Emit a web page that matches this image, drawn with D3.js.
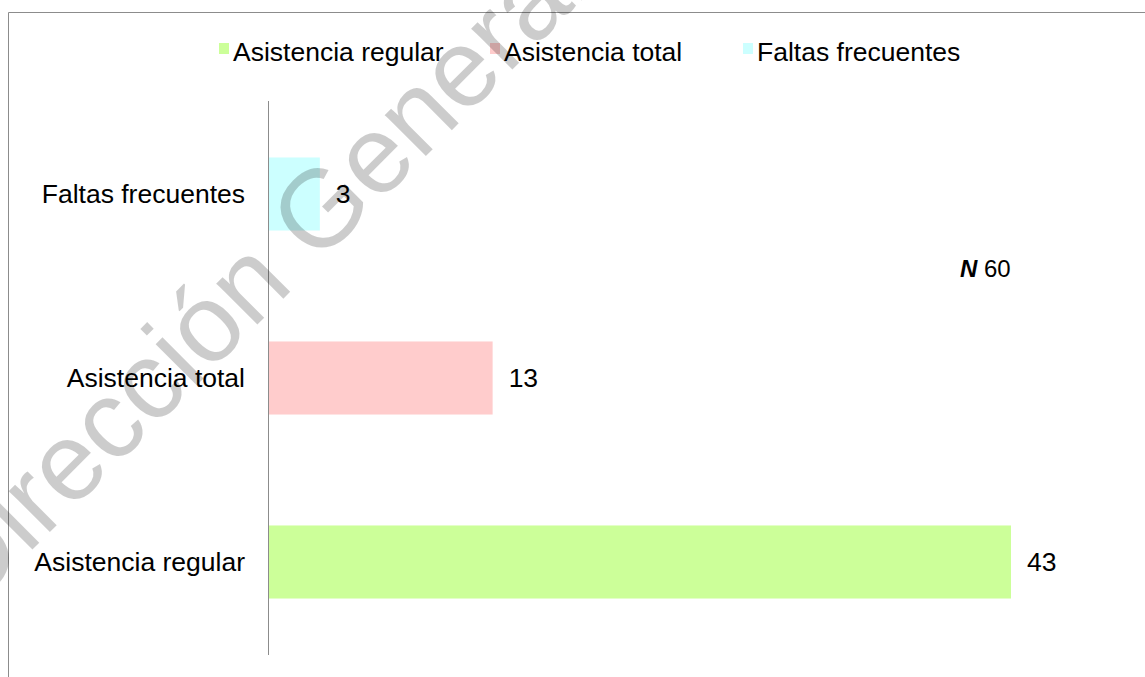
<!DOCTYPE html>
<html>
<head>
<meta charset="utf-8">
<script src="https://cdn.jsdelivr.net/npm/d3@7"></script>
<style>
  body { margin: 0; background: #fff; }
  text { font-family: "Liberation Sans", Arial, sans-serif; }
</style>
</head>
<body>
<script>
var categories = ["Faltas frecuentes", "Asistencia total", "Asistencia regular"];
var values = [3, 13, 43];
var colors = ["#ccffff", "#ffcccc", "#ccff99"];
var legendItems = ["Asistencia regular", "Asistencia total", "Faltas frecuentes"];
var legendColors = ["#ccff99", "#ffcccc", "#ccffff"];
var nTotal = 60;

var w = 1145, h = 677;
var svg = d3.select("body").append("svg").attr("width", w).attr("height", h);

// chart frame (runs past the picture on the right and bottom)
svg.append("path")
  .attr("d", "M8.5," + (h + 2) + "V12.5H" + (w + 2))
  .attr("fill", "none").attr("stroke", "#8c8c8c").attr("stroke-width", 1);

var x = d3.scaleLinear().domain([0, 43]).range([268, 1011]);
var y = d3.scaleBand().domain(categories).range([101, 655])
  .paddingInner(0.603).paddingOuter(0.307);

// bars
svg.selectAll("rect.bar").data(values).enter().append("rect")
  .attr("class", "bar")
  .attr("x", x(0))
  .attr("y", function(d, i){ return y(categories[i]); })
  .attr("width", function(d){ return x(d) - x(0); })
  .attr("height", y.bandwidth())
  .attr("fill", function(d, i){ return colors[i]; });

// vertical axis line
svg.append("line")
  .attr("x1", 268.5).attr("x2", 268.5).attr("y1", 101).attr("y2", 655)
  .attr("stroke", "#8c8c8c").attr("stroke-width", 1);

// legend
var legendX = [219, 490, 743];
legendItems.forEach(function(name, i){
  svg.append("rect").attr("x", legendX[i]).attr("y", 43)
    .attr("width", 10).attr("height", 11).attr("fill", legendColors[i]);
  svg.append("text").attr("x", legendX[i] + 14).attr("y", 61)
    .attr("font-size", 26.5).attr("fill", "#000").text(name);
});

// watermark
svg.append("text")
  .attr("transform", "translate(-29,611) rotate(-45)")
  .attr("font-size", 110)
  .attr("fill", "#000").attr("fill-opacity", 0.2)
  .text("Dirección General");

// category labels
svg.selectAll("text.cat").data(categories).enter().append("text")
  .attr("class", "cat")
  .attr("x", 245)
  .attr("y", function(d){ return y(d) + y.bandwidth() / 2; })
  .attr("dy", "0.35em")
  .attr("text-anchor", "end")
  .attr("font-size", 26.5)
  .text(function(d){ return d; });

// value labels
svg.selectAll("text.val").data(values).enter().append("text")
  .attr("class", "val")
  .attr("x", function(d){ return x(d) + 16; })
  .attr("y", function(d, i){ return y(categories[i]) + y.bandwidth() / 2; })
  .attr("dy", "0.35em")
  .attr("font-size", 26.5)
  .text(function(d){ return d; });

// N note
var note = svg.append("text").attr("x", 960).attr("y", 277).attr("font-size", 24);
note.append("tspan").attr("font-weight", "bold").attr("font-style", "italic").text("N");
note.append("tspan").text(" " + nTotal);
</script>
</body>
</html>
